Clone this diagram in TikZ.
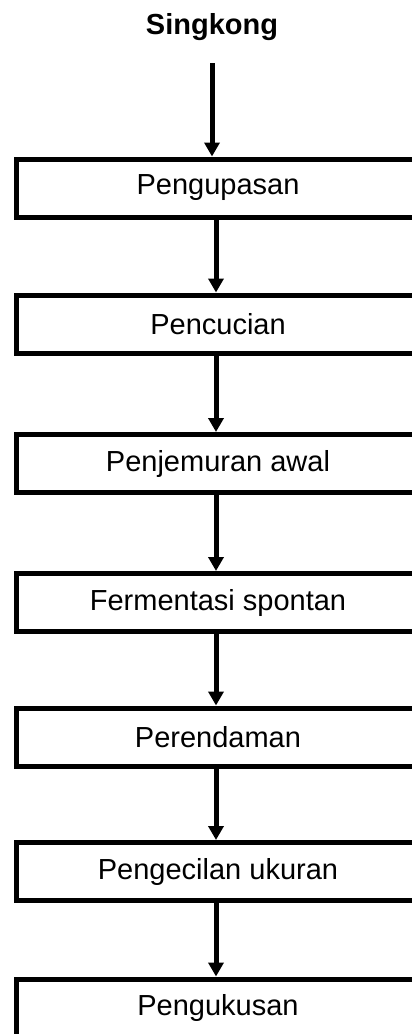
\documentclass[tikz,border=0pt]{standalone}
\usepackage{fontspec}
\setmainfont{Liberation Sans}
\usetikzlibrary{arrows.meta}
\tikzset{
  stepbox/.style={draw=black, line width=5pt, minimum width=404pt, minimum height=58pt, inner sep=0pt, font=\fontsize{29}{34}\selectfont, fill=white},
  flow/.style={line width=5pt, -{Triangle[width=15pt,length=14pt]}, shorten >=0pt},
  title/.style={font=\bfseries\fontsize{29}{34}\selectfont, anchor=base}
}
\begin{document}
\begin{tikzpicture}[x=1pt,y=-1pt]
\useasboundingbox (0,0) rectangle (412,1034);
\clip (0,0) rectangle (412,1034);
\node[title] (s) at (212,34) {Singkong};
\coordinate (st) at (212,63);
\node[stepbox] (p1) at (218,188) {Pengupasan};
\node[stepbox] (p2) at (218,324) {Pencucian};
\node[stepbox] (p3) at (218,463.5) {Penjemuran awal};
\node[stepbox] (p4) at (218,602.5) {Fermentasi spontan};
\node[stepbox] (p5) at (218,737) {Perendaman};
\node[stepbox] (p6) at (218,871.5) {Pengecilan ukuran};
\node[stepbox] (p7) at (218,1008) {Pengukusan};
\draw[flow] (st) -- (st |- p1.north);
\foreach \a/\b in {p1/p2,p2/p3,p3/p4,p4/p5,p5/p6,p6/p7}{
  \draw[flow] ([xshift=-2pt]\a.south) -- ([xshift=-2pt]\b.north);
}
\end{tikzpicture}
\end{document}
